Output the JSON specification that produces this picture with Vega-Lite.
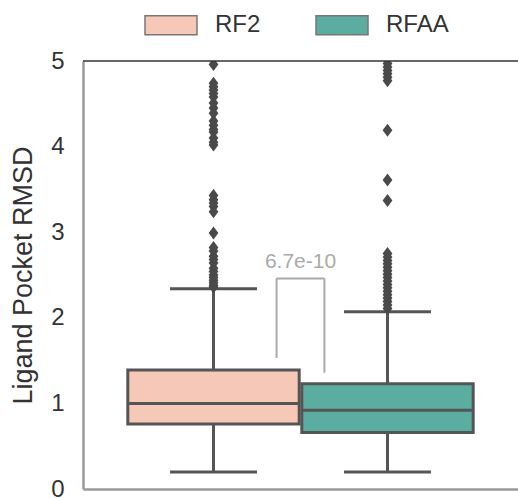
{
  "$schema": "https://vega.github.io/schema/vega-lite/v6.json",
  "autosize": {"type": "none"},
  "padding": {"left": 83, "top": 61, "right": 0, "bottom": 9},
  "width": 435,
  "height": 428,
  "background": "white",
  "config": {
    "view": {"stroke": null},
    "font": "Liberation Sans",
    "axis": {"grid": false}
  },
  "datasets": {
    "stats": [
      {"group": "RF2", "lower": 0.2, "q1": 0.76, "median": 1.0, "q3": 1.39, "upper": 2.34},
      {"group": "RFAA", "lower": 0.2, "q1": 0.66, "median": 0.92, "q3": 1.23, "upper": 2.07}
    ],
    "outliers": [
      {"group": "RF2", "value": 4.96}, {"group": "RF2", "value": 4.74}, {"group": "RF2", "value": 4.7},
      {"group": "RF2", "value": 4.66}, {"group": "RF2", "value": 4.62}, {"group": "RF2", "value": 4.58},
      {"group": "RF2", "value": 4.51}, {"group": "RF2", "value": 4.45}, {"group": "RF2", "value": 4.39},
      {"group": "RF2", "value": 4.3}, {"group": "RF2", "value": 4.25}, {"group": "RF2", "value": 4.2},
      {"group": "RF2", "value": 4.17}, {"group": "RF2", "value": 4.1}, {"group": "RF2", "value": 4.05},
      {"group": "RF2", "value": 4.02}, {"group": "RF2", "value": 3.43}, {"group": "RF2", "value": 3.38},
      {"group": "RF2", "value": 3.34}, {"group": "RF2", "value": 3.3}, {"group": "RF2", "value": 3.24},
      {"group": "RF2", "value": 2.99}, {"group": "RF2", "value": 2.82}, {"group": "RF2", "value": 2.78},
      {"group": "RF2", "value": 2.72}, {"group": "RF2", "value": 2.68}, {"group": "RF2", "value": 2.64},
      {"group": "RF2", "value": 2.58}, {"group": "RF2", "value": 2.54}, {"group": "RF2", "value": 2.5},
      {"group": "RF2", "value": 2.47}, {"group": "RF2", "value": 2.44}, {"group": "RF2", "value": 2.41},
      {"group": "RF2", "value": 2.38}, {"group": "RF2", "value": 2.36},
      {"group": "RFAA", "value": 4.97}, {"group": "RFAA", "value": 4.93}, {"group": "RFAA", "value": 4.89},
      {"group": "RFAA", "value": 4.85}, {"group": "RFAA", "value": 4.81}, {"group": "RFAA", "value": 4.77},
      {"group": "RFAA", "value": 4.19}, {"group": "RFAA", "value": 3.61}, {"group": "RFAA", "value": 3.37},
      {"group": "RFAA", "value": 2.75}, {"group": "RFAA", "value": 2.71}, {"group": "RFAA", "value": 2.67},
      {"group": "RFAA", "value": 2.63}, {"group": "RFAA", "value": 2.59}, {"group": "RFAA", "value": 2.55},
      {"group": "RFAA", "value": 2.51}, {"group": "RFAA", "value": 2.47}, {"group": "RFAA", "value": 2.43},
      {"group": "RFAA", "value": 2.39}, {"group": "RFAA", "value": 2.35}, {"group": "RFAA", "value": 2.31},
      {"group": "RFAA", "value": 2.27}, {"group": "RFAA", "value": 2.23}, {"group": "RFAA", "value": 2.19},
      {"group": "RFAA", "value": 2.15}, {"group": "RFAA", "value": 2.11}
    ],
    "annot": [
      {"from": "RF2", "to": "RFAA", "label": "6.7e-10", "top": 2.46, "leftEnd": 1.53, "rightEnd": 1.36}
    ]
  },
  "encoding": {
    "x": {
      "field": "group",
      "type": "nominal",
      "scale": {"type": "band", "domain": ["RF2", "RFAA"], "paddingInner": 0, "paddingOuter": 0.25},
      "axis": {"title": null, "labels": false, "ticks": false, "domain": true, "domainColor": "#9a9a9a", "domainWidth": 2.5}
    }
  },
  "layer": [
    {
      "data": {"name": "stats"},
      "mark": {"type": "rule", "color": "#555555", "strokeWidth": 3},
      "encoding": {
        "y": {"field": "lower", "type": "quantitative", "scale": {"domain": [0, 5], "nice": false, "zero": false},
          "axis": {"title": "Ligand Pocket RMSD", "values": [0, 1, 2, 3, 4, 5], "format": "d", "ticks": false, "labelPadding": 19,
            "labelFontSize": 24, "labelColor": "#333333", "titleFontSize": 27, "titleFontWeight": "normal",
            "titleColor": "#333333", "titlePadding": 13, "domainColor": "#9a9a9a", "domainWidth": 2.5, "labelFont": "Liberation Sans", "titleFont": "Liberation Sans"}},
        "y2": {"field": "q1"}
      }
    },
    {
      "data": {"name": "stats"},
      "mark": {"type": "rule", "color": "#555555", "strokeWidth": 3},
      "encoding": {
        "y": {"field": "q3", "type": "quantitative"},
        "y2": {"field": "upper"}
      }
    },
    {
      "data": {"name": "stats"},
      "mark": {"type": "tick", "color": "#555555", "size": 87, "thickness": 3, "opacity": 1},
      "encoding": {"y": {"field": "lower", "type": "quantitative"}}
    },
    {
      "data": {"name": "stats"},
      "mark": {"type": "tick", "color": "#555555", "size": 87, "thickness": 3, "opacity": 1},
      "encoding": {"y": {"field": "upper", "type": "quantitative"}}
    },
    {
      "data": {"name": "stats"},
      "mark": {"type": "bar", "stroke": "#555555", "strokeWidth": 3, "width": {"band": 0.985}, "opacity": 1},
      "encoding": {
        "y": {"field": "q1", "type": "quantitative"},
        "y2": {"field": "q3"},
        "fill": {
          "field": "group", "type": "nominal",
          "scale": {"domain": ["RF2", "RFAA"], "range": ["#F5C8B8", "#5BADA2"]},
          "legend": {
            "title": null, "orient": "none", "direction": "horizontal", "legendX": 61, "legendY": -63,
            "symbolType": "M-1,-0.365H1V0.365H-1Z", "symbolSize": 2704,
            "symbolStrokeColor": "#777777", "symbolStrokeWidth": 1.5,
            "labelFontSize": 24, "labelColor": "#333333", "labelOffset": 17, "columnPadding": 52,
            "padding": 0, "labelFont": "Liberation Sans"
          }
        }
      }
    },
    {
      "data": {"name": "stats"},
      "mark": {"type": "tick", "color": "#555555", "size": 171, "thickness": 3, "opacity": 1},
      "encoding": {"y": {"field": "median", "type": "quantitative"}}
    },
    {
      "data": {"name": "outliers"},
      "mark": {"type": "point", "shape": "M0,-1L0.75,0L0,1L-0.75,0Z", "filled": true, "color": "#4a4a4a", "size": 170, "opacity": 1, "clip": true},
      "encoding": {"y": {"field": "value", "type": "quantitative"}}
    },
    {
      "data": {"name": "annot"},
      "mark": {"type": "rule", "color": "#333333", "strokeWidth": 1.5},
      "encoding": {"y": {"datum": 5, "type": "quantitative"}, "x": null}
    },
    {
      "data": {"name": "annot"},
      "mark": {"type": "rule", "color": "#aaaaaa", "strokeWidth": 2},
      "encoding": {
        "x": {"field": "from", "type": "nominal", "bandPosition": 0.8625},
        "y": {"field": "leftEnd", "type": "quantitative"},
        "y2": {"field": "top"}
      }
    },
    {
      "data": {"name": "annot"},
      "mark": {"type": "rule", "color": "#aaaaaa", "strokeWidth": 2},
      "encoding": {
        "x": {"field": "to", "type": "nominal", "bandPosition": 0.1375},
        "y": {"field": "rightEnd", "type": "quantitative"},
        "y2": {"field": "top"}
      }
    },
    {
      "data": {"name": "annot"},
      "mark": {"type": "rule", "color": "#aaaaaa", "strokeWidth": 2},
      "encoding": {
        "x": {"field": "from", "type": "nominal", "bandPosition": 0.8625},
        "x2": {"field": "to", "bandPosition": 0.1375},
        "y": {"field": "top", "type": "quantitative"}
      }
    },
    {
      "data": {"name": "annot"},
      "mark": {"type": "text", "color": "#aaaaaa", "fontSize": 21, "align": "center", "baseline": "alphabetic", "dy": -10},
      "encoding": {
        "x": {"field": "from", "type": "nominal", "bandPosition": 1},
        "y": {"field": "top", "type": "quantitative"},
        "text": {"field": "label"}
      }
    }
  ]
}
